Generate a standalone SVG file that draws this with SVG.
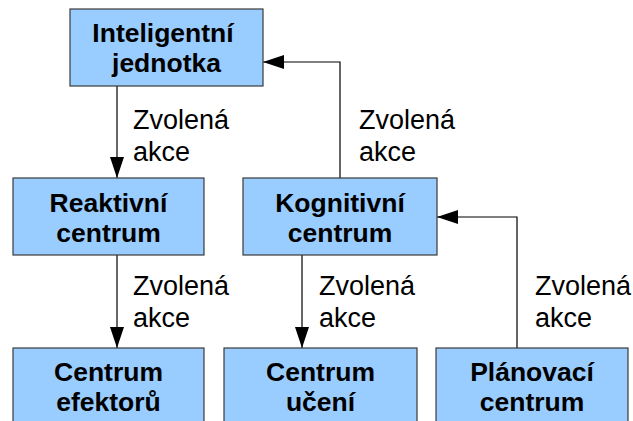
<svg xmlns="http://www.w3.org/2000/svg" width="633" height="421" viewBox="0 0 633 421">
  <defs>
    <marker id="arrow" markerWidth="21" markerHeight="14" refX="21" refY="7" orient="auto" markerUnits="userSpaceOnUse" viewBox="0 0 21 14">
      <path d="M0,0 L21,7 L0,14 Z" fill="#000"/>
    </marker>
    <style>
      .box { fill: #99ccff; stroke: #3a3a3a; stroke-width: 1.2; }
      .title { font-family: "Liberation Sans", Arial, sans-serif; font-weight: bold; font-size: 26.5px; fill: #000; text-anchor: middle; }
      .label { font-family: "Liberation Sans", Arial, sans-serif; font-size: 27px; fill: #000; }
      .conn { fill: none; stroke: #000; stroke-width: 1.2; }
    </style>
  </defs>
  <rect width="633" height="421" fill="#fff"/>

  <g id="connectors">
    <line class="conn" x1="117" y1="86" x2="117" y2="178" marker-end="url(#arrow)"/>
    <line class="conn" x1="117" y1="255" x2="117" y2="348" marker-end="url(#arrow)"/>
    <line class="conn" x1="302" y1="255" x2="302" y2="348" marker-end="url(#arrow)"/>
    <polyline class="conn" points="340,178 340,62 263,62" marker-end="url(#arrow)"/>
    <polyline class="conn" points="517,348 517,217 437,217" marker-end="url(#arrow)"/>
    <text class="label" x="133" y="129">Zvolená</text>
    <text class="label" x="133" y="161">akce</text>
    <text class="label" x="359" y="129">Zvolená</text>
    <text class="label" x="359" y="161">akce</text>
    <text class="label" x="133" y="295">Zvolená</text>
    <text class="label" x="133" y="327">akce</text>
    <text class="label" x="319" y="295">Zvolená</text>
    <text class="label" x="319" y="327">akce</text>
    <text class="label" x="535" y="295">Zvolená</text>
    <text class="label" x="535" y="327">akce</text>
  </g>

  <g id="inteligentni-jednotka">
    <rect class="box" x="70" y="9" width="193" height="77"/>
    <text class="title" x="163" y="42">Inteligentní</text>
    <text class="title" x="166.5" y="72">jednotka</text>
  </g>

  <g id="reaktivni-centrum">
    <rect class="box" x="13" y="178" width="191" height="77"/>
    <text class="title" x="108.5" y="212">Reaktivní</text>
    <text class="title" x="108.5" y="242">centrum</text>
  </g>

  <g id="kognitivni-centrum">
    <rect class="box" x="243" y="178" width="194" height="77"/>
    <text class="title" x="340" y="212">Kognitivní</text>
    <text class="title" x="340" y="242">centrum</text>
  </g>

  <g id="centrum-efektoru">
    <rect class="box" x="13" y="348" width="191" height="90"/>
    <text class="title" x="108.5" y="381">Centrum</text>
    <text class="title" x="108.5" y="411">efektorů</text>
  </g>

  <g id="centrum-uceni">
    <rect class="box" x="224" y="348" width="193" height="90"/>
    <text class="title" x="320.5" y="381">Centrum</text>
    <text class="title" x="320.5" y="411">učení</text>
  </g>

  <g id="planovaci-centrum">
    <rect class="box" x="436" y="348" width="192" height="90"/>
    <text class="title" x="532" y="381">Plánovací</text>
    <text class="title" x="532" y="411">centrum</text>
  </g>
</svg>
